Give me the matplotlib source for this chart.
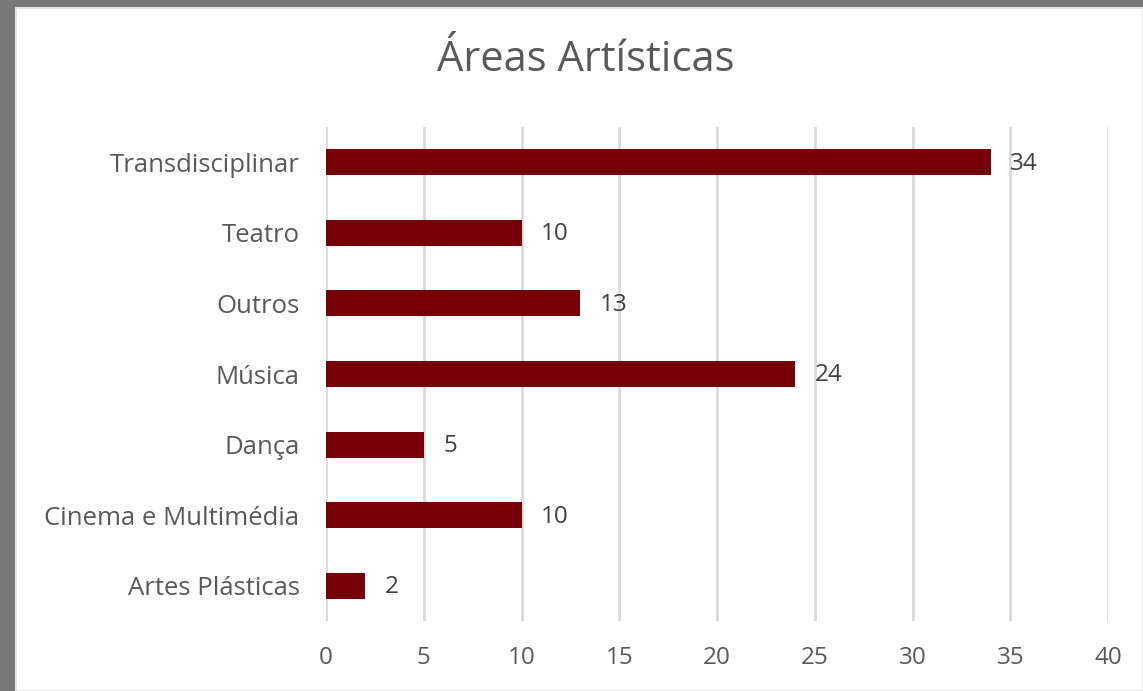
import numpy as np
import matplotlib.pyplot as plt
from matplotlib.patches import Rectangle

# data
categories = ['Artes Plásticas', 'Cinema e Multimédia', 'Dança', 'Música',
              'Outros', 'Teatro', 'Transdisciplinar']
values = [2, 10, 5, 24, 13, 10, 34]
xticks = [0, 5, 10, 15, 20, 25, 30, 35, 40]

bar_color = '#760008'
text_color = '#595959'
grid_color = '#d9d9d9'

plt.rcParams['font.family'] = ['Open Sans', 'DejaVu Sans']

fig = plt.figure(figsize=(11.43, 6.91), dpi=100)
fig.patch.set_facecolor('#787878')
# white chart area inside the grey screenshot frame
fig.patches.append(Rectangle((16 / 1143, 0), 1 - 16 / 1143, 1 - 8 / 691,
                             transform=fig.transFigure, facecolor='white',
                             edgecolor='#e6e6e6', linewidth=1.5, zorder=-1))

ax = fig.add_axes([326 / 1143, 70 / 691, (1108 - 326) / 1143, (621 - 127) / 691])
ax.set_zorder(2)
ax.set_facecolor('none')

y = np.arange(len(categories))
ax.barh(y, values, height=0.37, color=bar_color, zorder=3)
for yi, v in zip(y, values):
    ax.annotate(str(v), (v, yi), xytext=(14, -1), textcoords='offset points',
                va='center', ha='left', fontsize=17.5, color='#404040')

ax.set_xlim(0, 40)
ax.set_ylim(-0.5, len(categories) - 0.5)
ax.set_xticks(xticks)
ax.set_yticks(y)
ax.set_yticklabels(categories)
ax.tick_params(axis='both', length=0, labelsize=17.5, colors=text_color)
ax.tick_params(axis='x', pad=18)
ax.tick_params(axis='y', pad=19)
ax.tick_params(axis='y', labelsize=18.5)
ax.grid(axis='x', color=grid_color, linewidth=2, zorder=0)
for s in ax.spines.values():
    s.set_visible(False)

fig.text((438 + 734) / 2 / 1143, 1 - 60 / 691, 'Áreas Artísticas',
         ha='center', va='center', fontsize=30, color=text_color)

fig.savefig('out.png', dpi=100, facecolor=fig.get_facecolor())
